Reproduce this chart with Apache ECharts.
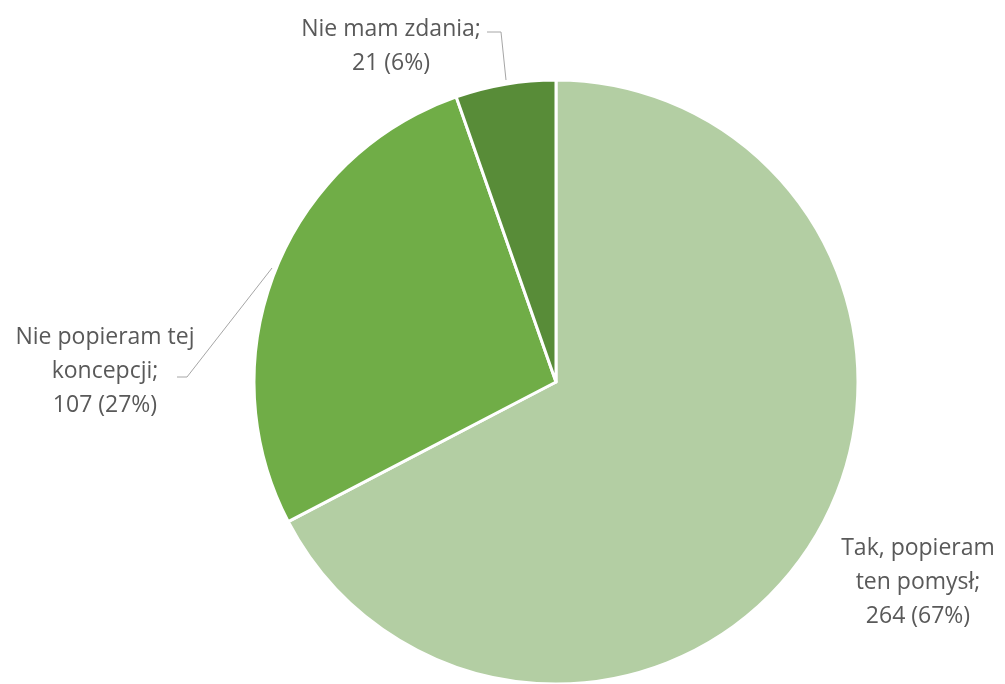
<!DOCTYPE html>
<html>
<head>
<meta charset="utf-8">
<script src="https://cdn.jsdelivr.net/npm/echarts@6/dist/echarts.min.js"></script>
<style>
html,body{margin:0;padding:0;background:#fff;}
#c{width:1005px;height:684px;}
</style>
</head>
<body>
<div id="c"></div>
<script>
const categories = ['Tak, popieram\nten pomysł', 'Nie popieram tej\nkoncepcji', 'Nie mam zdania'];
const values = [264, 107, 21];
const colors = ['#b3cea3', '#70ad47', '#588c38'];

const labelPos = [
  {x: 918, y: 582, line: null},
  {x: 105, y: 371, line: [[177, 377], [187, 377], [272, 268]]},
  {x: 391, y: 46, line: [[487, 32], [501, 32], [506, 80]]}
];

const chart = echarts.init(document.getElementById('c'), null, {renderer: 'canvas'});
chart.setOption({
  backgroundColor: '#ffffff',
  animation: false,
  series: [{
    type: 'pie',
    center: [556, 382],
    radius: [0, 302],
    startAngle: 90,
    clockwise: true,
    percentPrecision: 0,
    data: categories.map((n, i) => ({
      name: n, value: values[i],
      itemStyle: {color: colors[i]},
      labelLine: {show: i !== 0}
    })),
    itemStyle: {borderColor: '#ffffff', borderWidth: 3},
    label: {
      show: true,
      position: 'outside',
      overflow: 'none',
      formatter: p => p.name + ';\n' + p.value + ' (' + p.percent + '%)',
      color: '#595959',
      fontSize: 23,
      fontFamily: '"Open Sans", sans-serif',
      lineHeight: 34,
      align: 'center'
    },
    labelLine: {
      show: true,
      lineStyle: {color: '#a6a6a6', width: 1}
    },
    labelLayout: function (params) {
      const p = labelPos[params.dataIndex];
      const r = {x: p.x, y: p.y, align: 'center', verticalAlign: 'middle'};
      if (p.line) r.labelLinePoints = p.line;
      return r;
    }
  }]
});
</script>
</body>
</html>
